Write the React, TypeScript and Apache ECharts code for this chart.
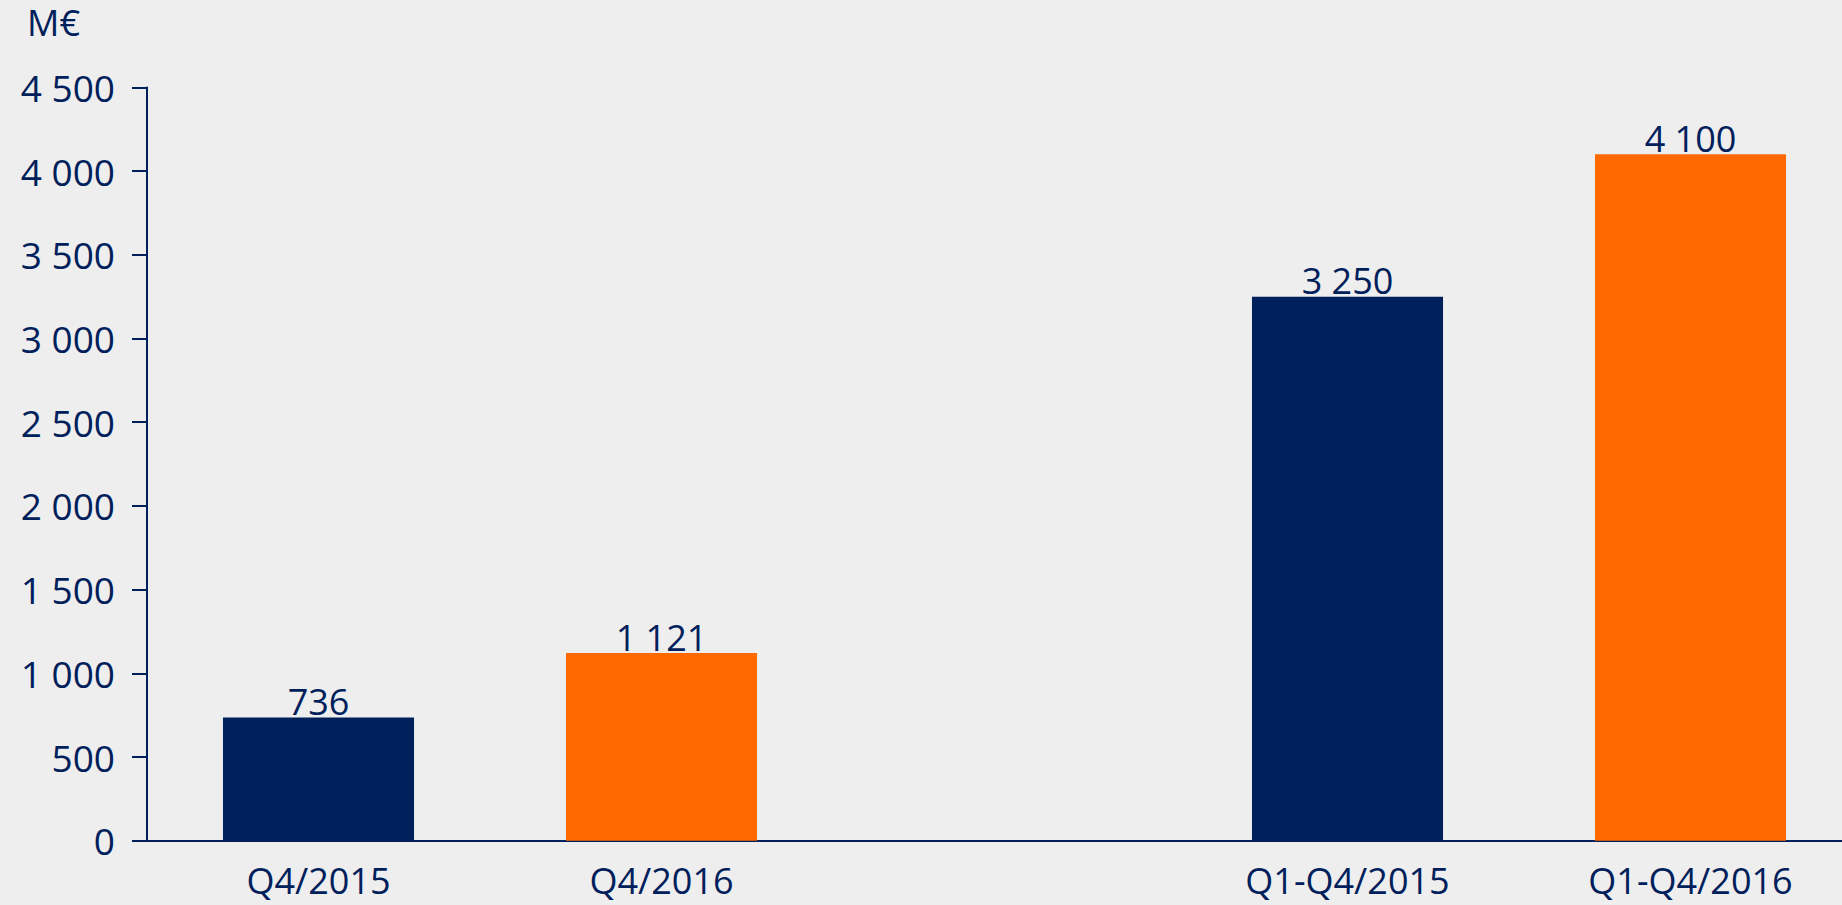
import React, { useEffect, useRef } from "react";
import * as echarts from "echarts";

const categories = ["Q4/2015", "Q4/2016", "", "Q1-Q4/2015", "Q1-Q4/2016"];
const values: (number | null)[] = [736, 1121, null, 3250, 4100];
const barColors = ["#00205B", "#FF6900", "#00205B", "#00205B", "#FF6900"];
const unitLabel = "M€";
const yMax = 4500;
const yStep = 500;

const NAVY = "#00205B";
const FONT = "Open Sans";

const fmt = (v: number) =>
  String(Math.round(v)).replace(/\B(?=(\d{3})+(?!\d))/g, " ");

export default function App() {
  const ref = useRef<HTMLDivElement>(null);
  useEffect(() => {
    document.body.style.margin = "0";
    document.body.style.overflow = "hidden";
    const chart = echarts.init(ref.current!, null, { renderer: "svg" });
    chart.setOption({
      animation: false,
      backgroundColor: "#EEEEEE",
      textStyle: { fontFamily: FONT, color: NAVY },
      grid: { left: 147, top: 87.4, bottom: 64.3, right: 0 },
      graphic: [
        {
          type: "text",
          left: 27,
          top: 4,
          style: {
            text: unitLabel,
            fontSize: 36,
            lineHeight: 36,
            fontFamily: FONT,
            fill: NAVY,
          },
        },
      ],
      xAxis: {
        type: "category",
        data: categories,
        axisLine: { show: true, lineStyle: { color: NAVY, width: 2 } },
        axisTick: { show: false },
        axisLabel: { fontSize: 36, color: NAVY, margin: 22, fontFamily: FONT },
      },
      yAxis: {
        type: "value",
        min: 0,
        max: yMax,
        interval: yStep,
        splitLine: { show: false },
        axisLine: { show: true, lineStyle: { color: NAVY, width: 2 } },
        axisTick: { show: true, length: 15, lineStyle: { color: NAVY, width: 2 } },
        axisLabel: {
          fontSize: 37,
          color: NAVY,
          margin: 32,
          fontFamily: FONT,
          formatter: (v: number) => fmt(v),
        },
      },
      series: [
        {
          type: "bar",
          barWidth: "55.7%",
          data: values.map((v, i) => ({
            value: v,
            itemStyle: { color: barColors[i] },
          })),
          label: {
            show: true,
            position: "top",
            distance: -2,
            fontSize: 36,
            color: NAVY,
            fontFamily: FONT,
            formatter: (p: any) => (p.value == null ? "" : fmt(p.value)),
          },
        },
      ],
    });
    return () => chart.dispose();
  }, []);
  return (
    <div
      style={{
        position: "absolute",
        left: 0,
        top: 0,
        width: 1842,
        height: 905,
        overflow: "hidden",
      }}
    >
      <div ref={ref} style={{ width: 1862, height: 905 }} />
    </div>
  );
}
